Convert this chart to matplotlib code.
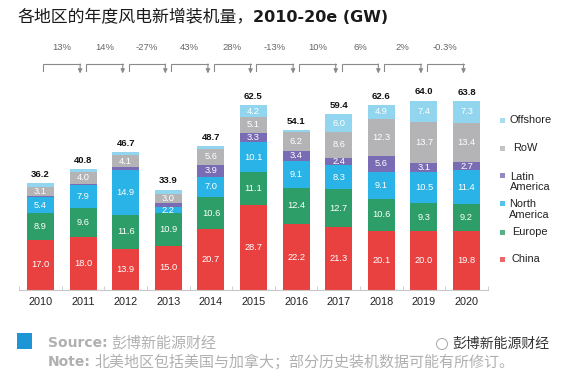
import matplotlib.pyplot as plt
import numpy as np
from matplotlib.patches import Ellipse

W, H = 575, 385

years = ['2010', '2011', '2012', '2013', '2014', '2015', '2016', '2017', '2018', '2019', '2020']
china = [17.0, 18.0, 13.9, 15.0, 20.7, 28.7, 22.2, 21.3, 20.1, 20.0, 19.8]
europe = [8.9, 9.6, 11.6, 10.9, 10.6, 11.1, 12.4, 12.7, 10.6, 9.3, 9.2]
north_america = [5.4, 7.9, 14.9, 2.2, 7.0, 10.1, 9.1, 8.3, 9.1, 10.5, 11.4]
latin_america = [0.5, 0.4, 1.0, 1.4, 3.9, 3.3, 3.4, 2.4, 5.6, 3.1, 2.7]
row = [3.1, 4.0, 4.1, 3.0, 5.6, 5.1, 6.2, 8.6, 12.3, 13.7, 13.4]
offshore = [1.3, 0.9, 1.2, 1.4, 0.9, 4.2, 0.8, 6.0, 4.9, 7.4, 7.3]
totals = [36.2, 40.8, 46.7, 33.9, 48.7, 62.5, 54.1, 59.4, 62.6, 64.0, 63.8]
growth = ['13%', '14%', '-27%', '43%', '28%', '-13%', '10%', '6%', '2%', '-0.3%']

series = [
    ('China', china, '#e8413f'),
    ('Europe', europe, '#2e9e68'),
    ('North\nAmerica', north_america, '#2ab3e6'),
    ('Latin\nAmerica', latin_america, '#7a6cb4'),
    ('RoW', row, '#b4b4b6'),
    ('Offshore', offshore, '#92d5ee'),
]

CJK = ['Noto Sans CJK SC', 'DejaVu Sans']
NUM = ['Liberation Sans', 'DejaVu Sans']


def fx(px):
    return px / W


def fy(py):
    return 1 - py / H


fig = plt.figure(figsize=(W / 100, H / 100), dpi=100)
# axes: baseline at y=290px, 2.96 px per GW, bars pitch 42.6px
ax = fig.add_axes([fx(19.2), fy(290), 11 * 42.6 / W, 260 / H])
ymax = 260 / 2.96
ax.set_xlim(-0.5, 10.5)
ax.set_ylim(0, ymax)

x = np.arange(len(years))
bottom = np.zeros(len(years))
for name, vals, col in series:
    vals = np.array(vals)
    ax.bar(x, vals, 0.63, bottom=bottom, color=col, linewidth=0)
    for xi, b, v in zip(x, bottom, vals):
        if v >= 2.0:
            ax.text(xi, b + v / 2, f'{v:.1f}', ha='center', va='center',
                    color='white', fontsize=6.7, family=NUM)
    bottom += vals

for xi, b, t in zip(x, bottom, totals):
    ax.annotate(f'{t:.1f}', (xi, b), xytext=(0, 3), textcoords='offset points',
                ha='center', va='bottom', fontsize=6.8, fontweight='bold',
                family=NUM, color='#111111')

# growth brackets
y_top = (290 - 64) / 2.96
y_left = (290 - 71) / 2.96
y_tip = (290 - 73.5) / 2.96
y_txt = (290 - 47) / 2.96
for i, g in enumerate(growth):
    x0, x1 = i + 0.07, i + 0.93
    ax.plot([x0, x0, x1], [y_left, y_top, y_top], color='#8a8a8a', lw=0.8,
            clip_on=False, solid_joinstyle='miter')
    ax.annotate('', xy=(x1, y_tip), xytext=(x1, y_top),
                arrowprops=dict(arrowstyle='-|>,head_length=0.25,head_width=0.12',
                                color='#8a8a8a', lw=0.8, shrinkA=0, shrinkB=0),
                annotation_clip=False)
    ax.text(i + 0.5, y_txt, g, ha='center', va='center', fontsize=6.8,
            family=NUM, color='#666666')

for s in ['top', 'right', 'left']:
    ax.spines[s].set_visible(False)
ax.spines['bottom'].set_color('#c8c8c8')
ax.spines['bottom'].set_linewidth(0.8)
ax.set_yticks([])
ax.set_xticks(x)
ax.set_xticklabels(years, fontsize=7.8, family=NUM, color='#222222')
ax.tick_params(axis='x', length=0, pad=5)
ax.set_xticks(np.arange(-0.5, 11, 1), minor=True)
ax.tick_params(axis='x', which='minor', length=3, direction='in', color='#c8c8c8')

# legend
legend_rows = [('Offshore', 120, '#92d5ee', 509),
               ('RoW', 148, '#b4b4b6', 513),
               ('Latin\nAmerica', 182, '#7a6cb4', 510),
               ('North\nAmerica', 209.5, '#2ab3e6', 509),
               ('Europe', 232, '#2e9e68', 512),
               ('China', 259, '#e8413f', 512)]
for label, py, col, tx in legend_rows:
    my = py - 6.5 if '\n' in label else py
    fig.patches.append(plt.Rectangle((fx(500), fy(my + 2.5)), 5 / W, 5 / H,
                                     transform=fig.transFigure, color=col,
                                     alpha=0.8, linewidth=0))
    fig.text(fx(tx), fy(py), label, fontsize=7.9, family=NUM, color='#222222',
             va='center', ha='left', linespacing=1.05)

# title
t1 = fig.text(fx(17), fy(17), '各地区的年度风电新增装机量，', fontsize=12.2,
              family=CJK, fontweight='medium', color='#1a1a1a', va='center')
fig.canvas.draw()
fig.text(0, 0, '2010-20e (GW)', fontsize=11.5, family=['DejaVu Sans'],
         fontweight='bold', color='#1a1a1a', va='center')
bb = t1.get_window_extent()
fig.texts[-1].set_position((bb.x1 / W, fy(17)))

# footer
fig.patches.append(plt.Rectangle((fx(16.5), fy(349)), 15 / W, 16 / H,
                                 transform=fig.transFigure, color='#1e95d4',
                                 linewidth=0))
s1 = fig.text(fx(48), fy(343), 'Source:', fontsize=10, family=['DejaVu Sans'],
              fontweight='bold', color='#b0b0b0', va='center')
n1 = fig.text(fx(48), fy(362), 'Note:', fontsize=10, family=['DejaVu Sans'],
              fontweight='bold', color='#b0b0b0', va='center')
fig.canvas.draw()
fig.text(s1.get_window_extent().x1 / W + 0.006, fy(343), '彭博新能源财经',
         fontsize=10.8, family=CJK, color='#b0b0b0', va='center', fontweight='light')
fig.text(n1.get_window_extent().x1 / W + 0.006, fy(362),
         '北美地区包括美国与加拿大；部分历史装机数据可能有所修订。',
         fontsize=10.8, family=CJK, color='#b0b0b0', va='center', fontweight='light')

# watermark
fig.text(fx(452), fy(344), '彭博新能源财经', fontsize=10, family=CJK,
         color='#333333', va='center')
fig.patches.append(Ellipse((fx(442), fy(344)), 11 / W, 11 / H,
                           transform=fig.transFigure, fill=False,
                           edgecolor='#999999', lw=0.6))

fig.savefig('out.png', dpi=100, facecolor='white')
